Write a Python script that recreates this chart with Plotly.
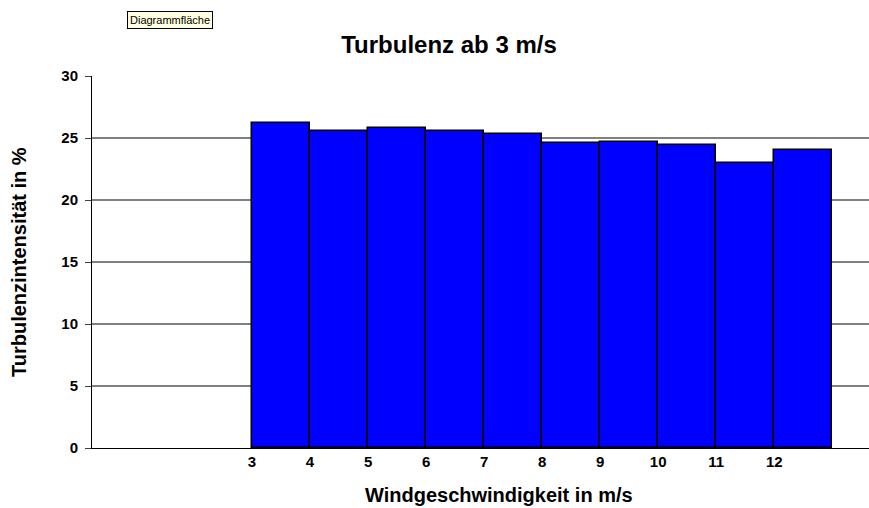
import plotly.graph_objects as go

# Data
wind_speed = [3, 4, 5, 6, 7, 8, 9, 10, 11, 12]
turbulence = [26.2, 25.6, 25.8, 25.6, 25.3, 24.6, 24.7, 24.4, 23.0, 24.0]
y_ticks = [0, 5, 10, 15, 20, 25, 30]

W, H = 869, 508
L, R, T, B = 92, 0, 76, 60
PW, PH = W - L - R, H - T - B

def px_x(x):
    return (x - L) / PW

def px_y(y):
    return (H - B - y) / PH

FONT = "Liberation Sans, Arial, sans-serif"

fig = go.Figure()
fig.add_trace(go.Bar(
    x=[v + 0.5 for v in wind_speed],
    y=turbulence,
    width=1.0,
    marker=dict(color="#0000FF", line=dict(color="#000000", width=1.5)),
    hoverinfo="skip",
))

fig.update_layout(
    width=W, height=H,
    margin=dict(l=L, r=R, t=T, b=B, pad=0),
    paper_bgcolor="white", plot_bgcolor="white",
    showlegend=False,
    bargap=0,
    title=dict(text="<b>Turbulenz ab 3 m/s</b>", x=449 / W, xref="container", xanchor="center",
               y=1 - 45 / H, yref="container", yanchor="middle",
               font=dict(family=FONT, size=24, color="black")),
    xaxis=dict(
        range=[0.243, 0.243 + PW / 58.03],
        tickvals=wind_speed, ticktext=["<b>%d</b>" % v for v in wind_speed],
        showgrid=False, zeroline=False,
        showline=True, linecolor="black", linewidth=1,
        ticks="", tickfont=dict(family=FONT, size=15, color="black"),
    ),
    yaxis=dict(
        range=[0, 30], tickvals=y_ticks, ticktext=["<b>%d</b>" % v for v in y_ticks],
        showgrid=True, gridcolor="#808080", gridwidth=2,
        zeroline=False,
        showline=True, linecolor="black", linewidth=1,
        ticks="outside", ticklen=6, tickcolor="#404040", tickwidth=1,
        ticklabelstandoff=4,
        tickfont=dict(family=FONT, size=15, color="black"),
    ),
    annotations=[
        dict(text="<b>Windgeschwindigkeit in m/s</b>", xref="paper", yref="paper",
             x=px_x(499), y=px_y(495), xanchor="center", yanchor="middle", showarrow=False,
             font=dict(family=FONT, size=20, color="black")),
        dict(text="<b>Turbulenzintensität in %</b>", xref="paper", yref="paper",
             x=px_x(19), y=px_y(262), xanchor="center", yanchor="middle", showarrow=False,
             textangle=-90, font=dict(family=FONT, size=20, color="black")),
        dict(text="Diagrammfläche", xref="paper", yref="paper",
             x=px_x(170), y=px_y(20), xanchor="center", yanchor="middle", showarrow=False,
             bgcolor="#FFFFE1", bordercolor="black", borderwidth=1, borderpad=2,
             font=dict(family=FONT, size=11, color="black")),
    ],
)

fig.write_html(
    "out.html",
    config={"displayModeBar": False},
    post_script="document.body.style.margin='0';document.body.style.overflow='hidden';",
)
